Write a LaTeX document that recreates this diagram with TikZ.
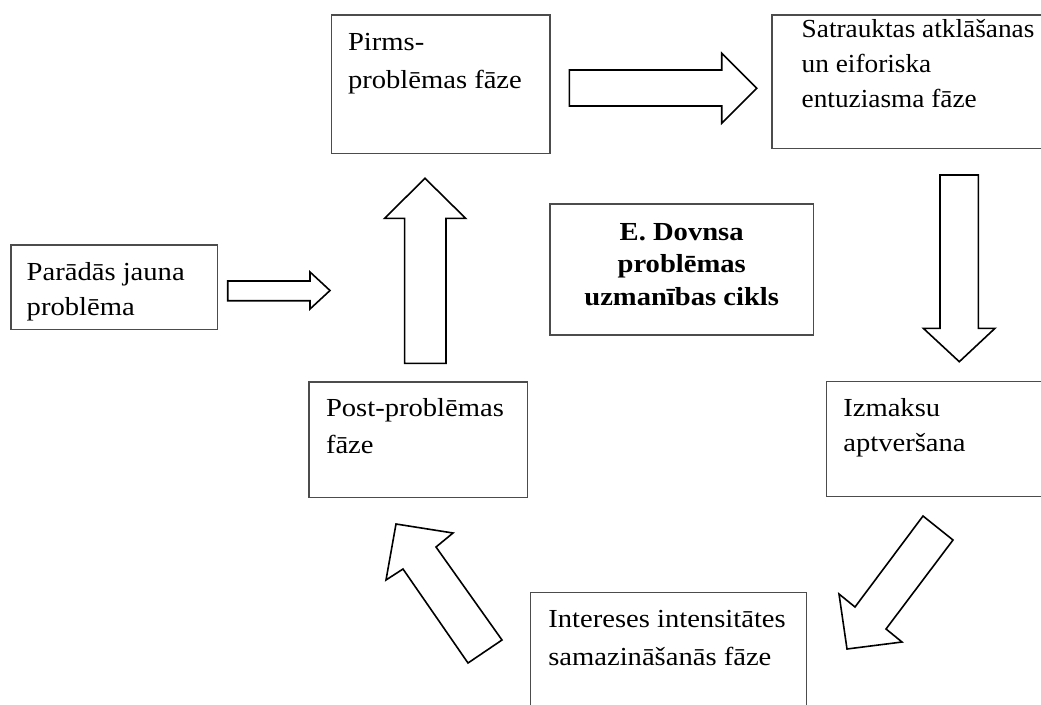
\documentclass[tikz,border=0pt]{standalone}
\usepackage{fontspec}
\setmainfont{Liberation Serif}
\newfontfamily\rf{Liberation Serif}[FakeStretch=1.1]
\newfontfamily\rfn{Liberation Serif}[FakeStretch=1.05]
\newfontfamily\bfx{Liberation Serif Bold}[FakeStretch=1.1]
\begin{document}
\begin{tikzpicture}[x=1pt,y=-1pt,
  box/.style={draw=black!70,line width=1.3pt,inner sep=0pt,outer sep=0pt,anchor=north west},
  blockarrow/.style={draw=black,line width=1.6pt,fill=white,line join=miter},
  txt/.style={inner sep=0pt,outer sep=0pt,anchor=base west}]
\useasboundingbox (0,0) rectangle (1041,704);
\clip (0,0) rectangle (1041,704);
% boxes
\node[box,minimum width=218.3pt,minimum height=138.3pt] (pirms) at (331.7,15) {};
\node[box,minimum width=290pt,minimum height=133.3pt] (satr) at (772,15) {};
\node[box,minimum width=263.3pt,minimum height=131pt] (center) at (550,204) {};
\node[box,minimum width=206.5pt,minimum height=84.3pt] (parad) at (11,245) {};
\node[box,minimum width=218.7pt,minimum height=115.7pt] (post) at (309,382) {};
\node[box,minimum width=240pt,minimum height=115pt] (izm) at (826.7,381.7) {};
\node[box,minimum width=276pt,minimum height=150pt] (inter) at (530.7,592.7) {};
% texts
\node[txt] (tpirms) at (348,50) {\fontsize{26}{38}\rf\vtop{\hbox{Pirms-}\hbox{problēmas fāze}}};
\node[txt] (tsatr) at (801.7,37.5) {\fontsize{26}{35}\rfn\vtop{\hbox{Satrauktas atklāšanas}\hbox{un eiforiska}\hbox{entuziasma fāze}}};
\node[txt] (tparad) at (26.7,280) {\fontsize{26}{35}\rf\vtop{\hbox{Parādās jauna}\hbox{problēma}}};
\node[txt] (tpost) at (326,416) {\fontsize{26}{37}\rf\vtop{\hbox{Post-problēmas}\hbox{fāze}}};
\node[txt] (tizm) at (843.3,416.7) {\fontsize{26}{35}\rf\vtop{\hbox{Izmaksu}\hbox{aptveršana}}};
\node[txt] (tinter) at (548.3,627.3) {\fontsize{26}{37.7}\rf\vtop{\hbox{Intereses intensitātes}\hbox{samazināšanās fāze}}};
\node[inner sep=0pt,outer sep=0pt,anchor=base] (tcenter) at (681.7,240) {\fontsize{26}{32.5}\bfx\vtop{\halign{\hfil#\hfil\cr E. Dovnsa\cr problēmas\cr uzmanības cikls\cr}}};
% block arrows
\draw[blockarrow] (569.3,70) -- (721.7,70) -- (721.7,53.3) -- (756.7,88.3) -- (721.7,123.3) -- (721.7,106) -- (569.3,106) -- cycle;
\draw[blockarrow] (940,175) -- (978.3,175) -- (978.3,328.3) -- (995,328.3) -- (959.3,361.7) -- (923.3,328.3) -- (940,328.3) -- cycle;
\draw[blockarrow] (227.7,281) -- (310,281) -- (310,272) -- (330,290.5) -- (310,309) -- (310,300.7) -- (227.7,300.7) -- cycle;
\draw[blockarrow] (404.6,363.3) -- (404.6,218.3) -- (384.6,218.3) -- (425,178.3) -- (465.6,218.3) -- (446,218.3) -- (446,363.3) -- cycle;
\draw[blockarrow] (923,516) -- (953,540) -- (886,629) -- (902,642) -- (847,649) -- (839,594) -- (855,607) -- cycle;
\draw[blockarrow] (396,524) -- (453,533) -- (436,547) -- (502,640) -- (468,663) -- (403,569) -- (386,580) -- cycle;
\end{tikzpicture}
\end{document}
